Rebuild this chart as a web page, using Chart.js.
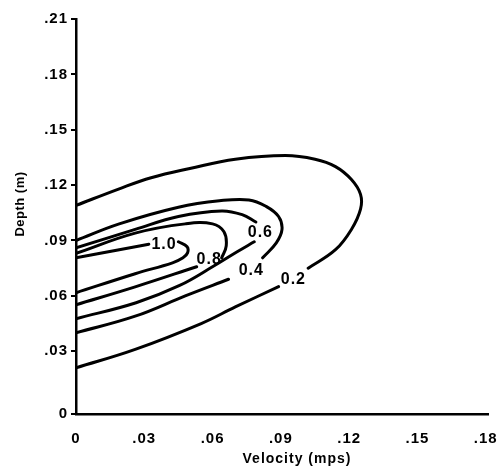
<!DOCTYPE html>
<html>
<head>
<meta charset="utf-8">
<script src="https://cdn.jsdelivr.net/npm/chart.js@4"></script>
<style>
  html, body { margin: 0; padding: 0; background: #fff; }
  #wrap { width: 502px; height: 474px; }
</style>
</head>
<body>
<div id="wrap"><canvas id="depthVel"></canvas></div>
<script>
// contour levels and where their labels sit (velocity, depth)
const levels = ['0.2', '0.4', '0.6', '0.8', '1.0'];
const labelPos = [[0.0955, 0.069], [0.077, 0.0735], [0.081, 0.0945], [0.0585, 0.0795], [0.0387, 0.088]];

// each contour is split in two where its label breaks the line
const c02a = [[0, 0.109], [0.019, 0.118], [0.033, 0.124], [0.050, 0.129], [0.070, 0.134], [0.092, 0.136], [0.105, 0.134], [0.114, 0.130], [0.121, 0.123], [0.125, 0.115], [0.125, 0.107], [0.121, 0.096], [0.114, 0.085], [0.102, 0.075]];
const c02b = [[0.089, 0.065], [0.070, 0.054], [0.055, 0.045], [0.026, 0.031], [0, 0.021]];
const c04a = [[0, 0.090], [0.019, 0.099], [0.045, 0.108], [0.063, 0.1115], [0.076, 0.112], [0.0835, 0.1085], [0.089, 0.103], [0.0905, 0.096], [0.088, 0.0887], [0.082, 0.0806]];
const c04b = [[0.067, 0.069], [0.048, 0.060], [0.026, 0.049], [0, 0.040]];
const c06a = [[0, 0.086], [0.026, 0.096], [0.045, 0.103], [0.064, 0.106], [0.073, 0.104], [0.079, 0.100]];
const c06b = [[0.0783, 0.0893], [0.0708, 0.0839], [0.0607, 0.0763], [0.0453, 0.0655], [0.0264, 0.0563], [0, 0.0476]];
const c08a = [[0, 0.083], [0.026, 0.094], [0.048, 0.099], [0.060, 0.099], [0.065, 0.0947], [0.066, 0.0871], [0.064, 0.0806]];
const c08b = [[0.053, 0.0758], [0.026, 0.0649], [0, 0.0552]];
const c10a = [[0, 0.0806], [0.019, 0.085], [0.032, 0.088]];
const c10b = [[0.045, 0.0893], [0.0488, 0.0866], [0.049, 0.0833], [0.047, 0.0806], [0.0424, 0.0779], [0.026, 0.0720], [0, 0.0617]];

const xTicks = [0, 0.03, 0.06, 0.09, 0.12, 0.15, 0.18];
const yTicks = [-0.004, 0.03, 0.06, 0.09, 0.12, 0.15, 0.18, 0.21];

const segments = [c02a, c02b, c04a, c04b, c06a, c06b, c08a, c08b, c10a, c10b];

function fmt(v) {
    if (v < 0.01) return '0';
    return '.' + String(Math.round(v * 100)).padStart(2, '0');
}

const font = '"Liberation Sans", Arial, sans-serif';

const textPlugin = {
    id: 'textPlugin',
    beforeDraw(chart) {
        chart.ctx.letterSpacing = '1px';
    },
    afterDraw(chart) {
        const ctx = chart.ctx;
        const x = chart.scales.x, y = chart.scales.y;
        ctx.save();
        ctx.fillStyle = '#000';
        ctx.textAlign = 'center';
        ctx.textBaseline = 'middle';
        ctx.letterSpacing = '1px';
        ctx.font = 'bold 16px ' + font;
        levels.forEach((lv, i) => {
            ctx.fillText(lv, x.getPixelForValue(labelPos[i][0]), y.getPixelForValue(labelPos[i][1]));
        });
        ctx.font = 'bold 14px ' + font;
        ctx.fillText('Velocity (mps)', 297, 459);
        ctx.translate(20, 204);
        ctx.rotate(-Math.PI / 2);
        ctx.letterSpacing = '0.5px';
        ctx.font = 'bold 13px ' + font;
        ctx.fillText('Depth (m)', 0, 0);
        ctx.restore();
    }
};

new Chart(document.getElementById('depthVel'), {
    type: 'scatter',
    data: {
        datasets: segments.map(s => ({
            data: s.map(p => ({ x: p[0], y: p[1] })),
            showLine: true,
            borderColor: '#000',
            borderWidth: 3,
            borderCapStyle: 'round',
            borderJoinStyle: 'round',
            pointRadius: 0,
            tension: 0.4
        }))
    },
    options: {
        responsive: true,
        maintainAspectRatio: false,
        animation: false,
        layout: { padding: { top: 19, right: 14, bottom: 0, left: 0 } },
        plugins: { legend: { display: false }, tooltip: { enabled: false } },
        scales: {
            x: {
                type: 'linear',
                min: 0,
                max: 0.181,
                afterBuildTicks: s => { s.ticks = xTicks.map(v => ({ value: v })); },
                afterFit: s => { s.height = 60; s.paddingRight = 0; s.paddingLeft = 0; },
                grid: { display: false },
                border: { display: true, color: '#000', width: 2.5 },
                ticks: {
                    color: '#000',
                    padding: 8,
                    maxRotation: 0,
                    font: { family: font, size: 15, weight: 'bold' },
                    callback: v => fmt(v)
                }
            },
            y: {
                type: 'linear',
                min: -0.004,
                max: 0.21,
                afterBuildTicks: s => { s.ticks = yTicks.map(v => ({ value: v })); },
                afterFit: s => { s.width = 76; s.paddingTop = 0; s.paddingBottom = 0; },
                grid: { drawOnChartArea: false, drawTicks: true, tickLength: 5, color: '#000', lineWidth: 2 },
                border: { display: true, color: '#000', width: 2.5 },
                ticks: {
                    color: '#000',
                    padding: 3,
                    font: { family: font, size: 15, weight: 'bold' },
                    callback: v => fmt(v)
                }
            }
        }
    },
    plugins: [textPlugin]
});
</script>
</body>
</html>
